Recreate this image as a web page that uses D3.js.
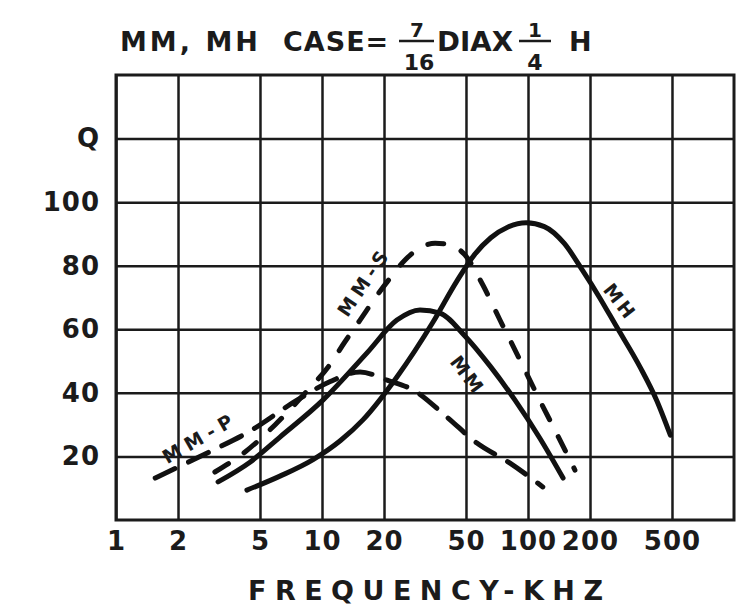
<!DOCTYPE html>
<html>
<head>
<meta charset="utf-8">
<script src="https://cdn.jsdelivr.net/npm/d3@7"></script>
<style>
  body { margin: 0; background: #fff; }
  svg text { font-family: "DejaVu Sans", sans-serif; font-weight: bold; fill: #1b1b1b; }
</style>
</head>
<body>
<svg id="chart" width="741" height="615"></svg>
<script>
// axis ticks
const freqTicks = [1, 2, 5, 10, 20, 50, 100, 200, 500];
const freqTickLabels = ["1", "2", "5", "10", "20", "50", "100", "200", "500"];
const qTicks = [20, 40, 60, 80, 100, 120];
const qTickLabels = ["20", "40", "60", "80", "100", "Q"];

// curves: [frequency kHz, Q]
const mmP = [[1.55, 13.2], [2.96, 22], [4.32, 27.4], [7.56, 37.7], [10.9, 43.5], [15.3, 46.6],
  [20.7, 44], [27.7, 40.9], [40.4, 32.4], [56.5, 24.2], [81.8, 17.9], [118, 10.4]];
const mmS = [[3.02, 15.1], [4.23, 21.4], [5.91, 29.9], [8.27, 39.9], [10.9, 48.8], [12.9, 56],
  [15.3, 62.9], [18.1, 69.8], [21.4, 76.1], [25.3, 81.8], [29.9, 85.6], [35.4, 87.1], [41.8, 86.5],
  [49.4, 83.4], [60.3, 74], [73, 63], [91.5, 50.3], [114, 37.7], [139, 26.7], [169, 15.7]];
const mm = [[3.13, 12], [4.47, 18.2], [6.25, 26.1], [10.1, 37.7], [16.5, 52.5], [23.1, 62.9],
  [29.9, 66.1], [37.4, 65.1], [49.4, 57.9], [65.5, 48.4], [86.5, 37.7], [114, 25.8], [148, 13.2]];
const mh = [[4.32, 9.4], [6.25, 13.8], [9.05, 19], [12.3, 25], [15.8, 31.5], [23.1, 45],
  [34.6, 62.3], [45, 75], [55, 83.5], [66, 88.8], [80, 92.2], [98, 93.5], [120, 92.3],
  [150, 87], [184, 78.5], [222, 70.1], [268, 61], [350, 48.1], [421, 37.7], [491, 26.7]];

const curveData = [mmP, mmS, mm, mh];
const curveDash = ["22,15", "16,19", null, null];

// curve labels, placed in data space
const labelText = ["MM-P", "MM-S", "MM", "MH"];
const labelFreq = [2.56, 16, 51, 280];
const labelQ = [26, 75, 45.5, 68.6];
const labelAngle = [-30, -56, 53, 52];
const labelSpacing = [6, 5, 3, 3];

const svg = d3.select("#chart");
svg.append("rect").attr("width", 741).attr("height", 615).attr("fill", "#fff");

const x = d3.scaleLog().domain([1, 1000]).range([116, 734]);
const y = d3.scaleLinear().domain([0, 140]).range([520, 75]);
const [x0, x1] = x.range();
const [y0, y1] = y.range();

// grid + labels via axes
const xAxis = svg.append("g")
  .attr("transform", `translate(0,${y0})`)
  .call(d3.axisBottom(x)
    .tickValues(freqTicks)
    .tickFormat((d, i) => freqTickLabels[i])
    .tickSize(-(y0 - y1))
    .tickPadding(12));
xAxis.select(".domain").remove();
xAxis.selectAll("line").attr("stroke", "#1b1b1b").attr("stroke-width", 2.5);
xAxis.selectAll("text").attr("font-size", 26).attr("letter-spacing", 1).attr("fill", "#1b1b1b");

const yAxis = svg.append("g")
  .attr("transform", `translate(${x0},0)`)
  .call(d3.axisLeft(y)
    .tickValues(qTicks)
    .tickFormat((d, i) => qTickLabels[i])
    .tickSize(-(x1 - x0))
    .tickPadding(16));
yAxis.select(".domain").remove();
yAxis.selectAll("line").attr("stroke", "#1b1b1b").attr("stroke-width", 2.5);
yAxis.selectAll("text").attr("font-size", 26).attr("letter-spacing", 1).attr("fill", "#1b1b1b");

svg.append("rect")
  .attr("x", x0).attr("y", y1)
  .attr("width", x1 - x0).attr("height", y0 - y1)
  .attr("fill", "none").attr("stroke", "#1b1b1b").attr("stroke-width", 3);

// curves
const line = d3.line()
  .x(d => x(d[0]))
  .y(d => y(d[1]))
  .curve(d3.curveMonotoneX);

svg.append("g").selectAll("path")
  .data(curveData)
  .join("path")
  .attr("d", line)
  .attr("fill", "none")
  .attr("stroke", "#111")
  .attr("stroke-width", 5)
  .attr("stroke-linecap", "round")
  .attr("stroke-dasharray", (d, i) => curveDash[i]);

// curve labels
labelText.forEach((t, i) => {
  svg.append("text")
    .attr("transform", `translate(${x(labelFreq[i])},${y(labelQ[i])}) rotate(${labelAngle[i]})`)
    .attr("text-anchor", "middle")
    .attr("dy", "0.36em")
    .attr("font-size", 19)
    .attr("letter-spacing", labelSpacing[i])
    .text(t);
});

// title
const title = svg.append("g");
title.append("text").attr("x", 120).attr("y", 51).attr("font-size", 27)
  .attr("letter-spacing", 3).text("MM, MH");
title.append("text").attr("x", 283).attr("y", 51).attr("font-size", 27)
  .attr("letter-spacing", 1).text("CASE=");
title.append("text").attr("x", 417).attr("y", 37).attr("font-size", 20)
  .attr("text-anchor", "middle").text("7");
title.append("line").attr("x1", 399).attr("x2", 434).attr("y1", 41).attr("y2", 41)
  .attr("stroke", "#1b1b1b").attr("stroke-width", 2.5);
title.append("text").attr("x", 419).attr("y", 70).attr("font-size", 22)
  .attr("text-anchor", "middle").text("16");
title.append("text").attr("x", 437).attr("y", 51).attr("font-size", 27)
  .attr("textLength", 76).attr("lengthAdjust", "spacingAndGlyphs").text("DIAX");
title.append("text").attr("x", 535).attr("y", 37).attr("font-size", 20)
  .attr("text-anchor", "middle").text("1");
title.append("line").attr("x1", 519).attr("x2", 551).attr("y1", 41).attr("y2", 41)
  .attr("stroke", "#1b1b1b").attr("stroke-width", 2.5);
title.append("text").attr("x", 535).attr("y", 70).attr("font-size", 22)
  .attr("text-anchor", "middle").text("4");
title.append("text").attr("x", 569).attr("y", 51).attr("font-size", 27).text("H");

// x axis title
svg.append("text")
  .attr("x", 248).attr("y", 600)
  .attr("font-size", 27)
  .attr("textLength", 355)
  .attr("lengthAdjust", "spacing")
  .text("FREQUENCY-KHZ");
</script>
</body>
</html>
